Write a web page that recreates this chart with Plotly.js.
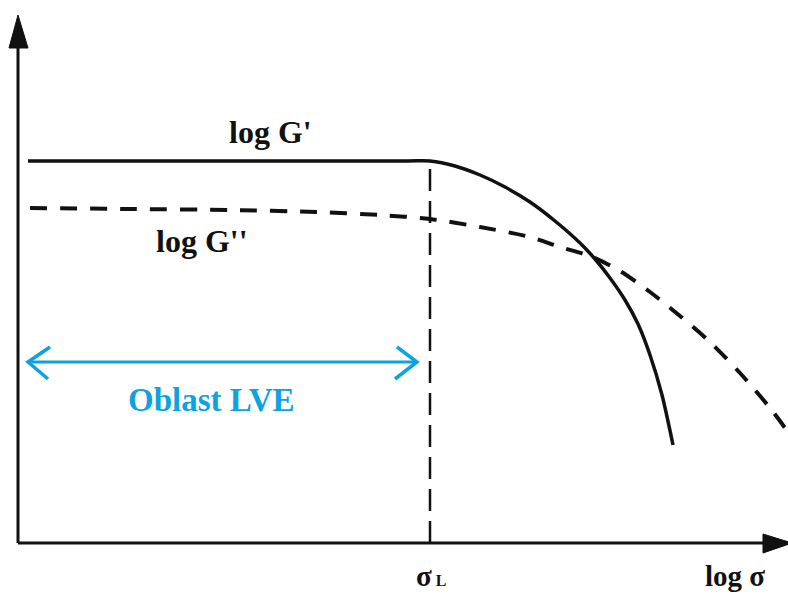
<!DOCTYPE html>
<html>
<head>
<meta charset="utf-8">
<script src="https://cdn.plot.ly/plotly-3.0.1.min.js"></script>
<style>html,body{margin:0;padding:0;background:#fff;}#chart{width:788px;height:595px;}</style>
</head>
<body>
<div id="chart"></div>
<script>
// Storage modulus G' (solid): plateau up to sigma_L, then falls off
const sigmaGp = [0.10, 2.00, 3.90, 4.12, 4.37, 4.62, 4.87, 5.12, 5.37, 5.62, 5.77, 5.92, 6.07, 6.20, 6.32, 6.44, 6.55];
const logGp   = [3.82, 3.82, 3.82, 3.82, 3.77, 3.68, 3.56, 3.41, 3.22, 3.00, 2.84, 2.65, 2.43, 2.19, 1.88, 1.48, 0.98];

// Loss modulus G'' (dashed): slow decline, crosses G' and keeps falling
const sigmaGpp = [0.12, 1.12, 2.12, 2.99, 3.62, 4.12, 4.62, 5.12, 5.42, 5.72, 6.02, 6.32, 6.62, 6.92, 7.22, 7.52, 7.70];
const logGpp   = [3.35, 3.34, 3.33, 3.31, 3.28, 3.24, 3.16, 3.06, 2.96, 2.87, 2.72, 2.51, 2.27, 2.01, 1.70, 1.35, 1.11];

// Limit of the linear viscoelastic region
const sigmaL = 4.12;
const lveStart = 0.10;

const serif = 'Liberation Serif, Times New Roman, serif';
const blue = '#0fa2e1';

const traces = [
  {x: sigmaGp, y: logGp, mode: 'lines', line: {color: '#111', width: 3.5, shape: 'spline', smoothing: 0.8}, hoverinfo: 'skip'},
  {x: sigmaGpp, y: logGpp, mode: 'lines', line: {color: '#111', width: 4, dash: '17px,13px', shape: 'spline', smoothing: 0.8}, hoverinfo: 'skip'},
  {x: [sigmaL, sigmaL], y: [0, logGp[3]], mode: 'lines', line: {color: '#111', width: 2.5, dash: '22px,10px'}, hoverinfo: 'skip'}
];

const shapes = [
  // axes
  {type: 'line', x0: 0, y0: 0, x1: 0, y1: 4.98, line: {color: '#111', width: 3}},
  {type: 'path', path: 'M -0.09,4.95 L 0,5.28 L 0.10,4.95 Z', fillcolor: '#111', line: {color: '#111', width: 1}},
  {type: 'line', x0: 0, y0: 0, x1: 7.48, y1: 0, line: {color: '#111', width: 3}},
  {type: 'path', path: 'M 7.45,0.09 L 7.74,0 L 7.45,-0.10 Z', fillcolor: '#111', line: {color: '#111', width: 1}},
  // LVE region double arrow
  {type: 'line', x0: lveStart + 0.01, y0: 1.81, x1: sigmaL - 0.13, y1: 1.81, line: {color: blue, width: 3}},
  {type: 'path', path: `M ${lveStart + 0.22},1.96 L ${lveStart},1.81 L ${lveStart + 0.20},1.64`, line: {color: blue, width: 3.5}},
  {type: 'path', path: `M ${sigmaL - 0.33},1.96 L ${sigmaL - 0.13},1.81 L ${sigmaL - 0.35},1.64`, line: {color: blue, width: 3.5}}
];

const txt = (x, y, text, size, color) => ({
  x: x, y: y, text: text, showarrow: false, xanchor: 'center', yanchor: 'middle', borderpad: 0,
  font: {family: serif, size: size, color: color || '#111', weight: 'bold'}
});

const annotations = [
  txt(2.52, 4.11, "log G'", 32),
  txt(1.84, 3.02, "log G''", 32),
  txt(1.93, 1.43, 'Oblast LVE', 33, blue),
  txt(4.13, -0.33, "σ<span style='font-size:16px'> L</span>", 29),
  txt(7.17, -0.33, 'log σ', 29)
];

const layout = {
  width: 788, height: 595,
  margin: {l: 0, r: 0, t: 0, b: 0},
  paper_bgcolor: '#fff', plot_bgcolor: '#fff',
  showlegend: false,
  xaxis: {range: [-0.18, 7.70], visible: false, fixedrange: true},
  yaxis: {range: [-0.52, 5.43], visible: false, fixedrange: true},
  shapes: shapes,
  annotations: annotations
};

Plotly.newPlot('chart', traces, layout, {displayModeBar: false, staticPlot: true});
</script>
</body>
</html>
